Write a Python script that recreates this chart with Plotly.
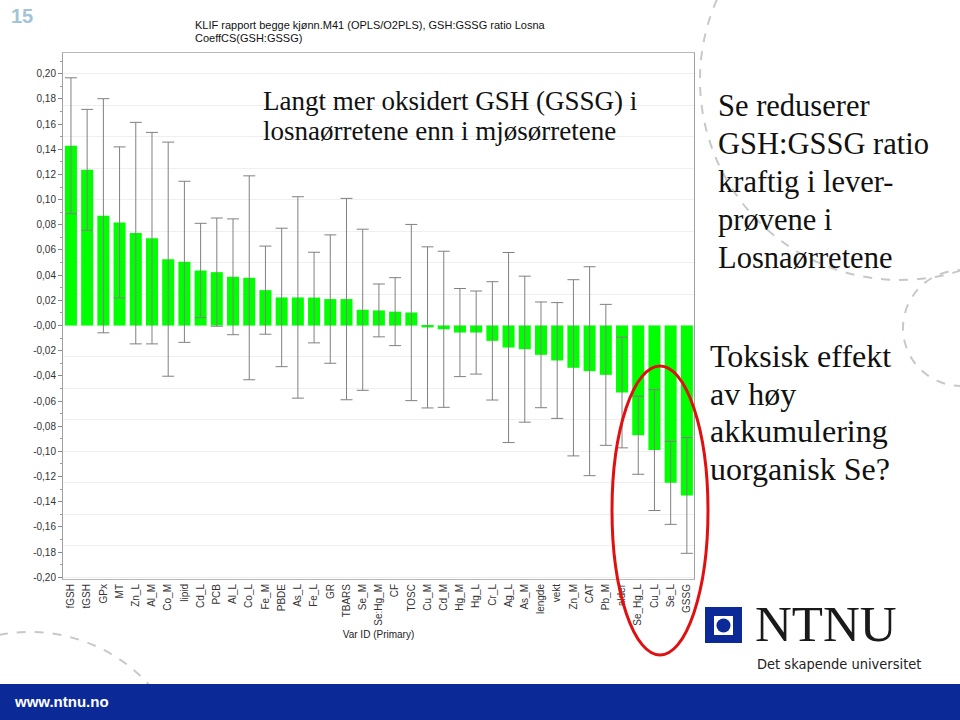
import plotly.graph_objects as go

categories = ["fGSH", "tGSH", "GPx", "MT", "Zn_L", "Al_M", "Co_M", "lipid", "Cd_L", "PCB",
              "Al_L", "Co_L", "Fe_M", "PBDE", "As_L", "Fe_L", "GR", "TBARS", "Se_M", "Se:Hg_M",
              "CF", "TOSC", "Cu_M", "Cd_M", "Hg_M", "Hg_L", "Cr_L", "Ag_L", "As_M", "lengde",
              "vekt", "Zn_M", "CAT", "Pb_M", "alder", "Se_Hg_L", "Cu_L", "Se_L", "GSSG"]
coeffs = [0.1428, 0.1237, 0.0872, 0.0819, 0.0734, 0.0694, 0.0527, 0.0506, 0.0437, 0.0424,
          0.0387, 0.0379, 0.0281, 0.0223, 0.0223, 0.0222, 0.0210, 0.0210, 0.0125, 0.0120,
          0.0110, 0.0103, -0.0015, -0.0030, -0.0056, -0.0056, -0.0122, -0.0175, -0.0188, -0.0233,
          -0.0278, -0.0336, -0.0363, -0.0392, -0.0532, -0.0872, -0.0990, -0.1250, -0.1350]
errors = [0.054, 0.048, 0.093, 0.060, 0.088, 0.084, 0.093, 0.064, 0.0375, 0.043,
          0.046, 0.081, 0.035, 0.055, 0.080, 0.036, 0.051, 0.080, 0.064, 0.021,
          0.027, 0.070, 0.064, 0.062, 0.035, 0.033, 0.047, 0.0755, 0.058, 0.042,
          0.046, 0.070, 0.083, 0.056, 0.044, 0.031, 0.048, 0.033, 0.046]
ytick_vals = [0.20, 0.18, 0.16, 0.14, 0.12, 0.10, 0.08, 0.06, 0.04, 0.02, 0.0,
              -0.02, -0.04, -0.06, -0.08, -0.10, -0.12, -0.14, -0.16, -0.18, -0.20]
ytick_text = ["0,20", "0,18", "0,16", "0,14", "0,12", "0,10", "0,08", "0,06", "0,04", "0,02", "-0,00",
              "-0,02", "-0,04", "-0,06", "-0,08", "-0,10", "-0,12", "-0,14", "-0,16", "-0,18", "-0,20"]

# plot area in pixels
L, R, T, B = 63, 694, 53, 579
W, H = R - L, B - T
def px(x):
    return (x - L) / W
def py(y):
    return (B - y) / H

fig = go.Figure()
fig.add_trace(go.Bar(
    x=categories, y=coeffs, width=0.74,
    marker=dict(color="#00ff00", line=dict(width=0)),
    error_y=dict(type="data", array=errors, color="#808080", thickness=1, width=6),
))

yr = [-0.2014, 0.2165]
fig.update_layout(
    width=960, height=720,
    margin=dict(l=L, r=960 - R, t=T, b=720 - B),
    paper_bgcolor="white", plot_bgcolor="white",
    showlegend=False,
    font=dict(family="Arial, Liberation Sans, sans-serif", size=10, color="#333"),
    xaxis=dict(type="category", range=[-0.49, 38.44], showgrid=False,
               showline=True, linecolor="#b8b8b8", mirror=True, ticks="",
               tickangle=-90, tickfont=dict(size=10, color="#333"),
               title=dict(text="Var ID (Primary)", font=dict(size=10, color="#222"), standoff=6)),
    yaxis=dict(range=yr, tickvals=ytick_vals, ticktext=ytick_text, showgrid=False,
               zeroline=False, showline=True, linecolor="#a0a0a0", mirror=True,
               ticks="outside", ticklen=4, tickcolor="#888", tickfont=dict(size=10, color="#333"),
               minor=dict(dtick=0.01, tick0=0, ticks="outside", ticklen=2, tickcolor="#999", showgrid=False)),
    yaxis2=dict(range=yr, overlaying="y", dtick=0.025, tick0=0, showgrid=True,
                gridcolor="#efefef", showticklabels=False, ticks="", zeroline=False, showline=False),
)
fig.add_trace(go.Scatter(x=[categories[0]], y=[0], yaxis="y2", mode="markers",
                         marker=dict(opacity=0), hoverinfo="skip"))

shapes = []
# decorative dashed arcs
shapes.append(dict(type="circle", xref="paper", yref="paper", layer="below",
                   x0=px(700), x1=px(1100), y0=py(280), y1=py(-120),
                   line=dict(color="#c8c8c8", width=2, dash="dash")))
shapes.append(dict(type="circle", xref="paper", yref="paper", layer="below",
                   x0=px(903), x1=px(1020), y0=py(386), y1=py(270),
                   line=dict(color="#c8c8c8", width=2, dash="dash")))
shapes.append(dict(type="circle", xref="paper", yref="paper", layer="below",
                   x0=px(-130), x1=px(190), y0=py(950), y1=py(632),
                   line=dict(color="#c8c8c8", width=2, dash="dash")))
# footer bar
shapes.append(dict(type="rect", xref="paper", yref="paper", layer="above",
                   x0=px(0), x1=px(960), y0=py(720), y1=py(684),
                   fillcolor="#0b2a98", line=dict(width=0)))
# red ellipse
shapes.append(dict(type="circle", xref="paper", yref="paper", layer="above",
                   x0=px(612), x1=px(708), y0=py(655), y1=py(366),
                   line=dict(color="#e01010", width=3)))
# NTNU logo
shapes.append(dict(type="rect", xref="paper", yref="paper", layer="above",
                   x0=px(705), x1=px(742), y0=py(643), y1=py(607),
                   fillcolor="#0b2a98", line=dict(width=0)))
shapes.append(dict(type="rect", xref="paper", yref="paper", layer="above",
                   x0=px(714), x1=px(733), y0=py(635), y1=py(616),
                   fillcolor="white", line=dict(width=0)))
shapes.append(dict(type="circle", xref="paper", yref="paper", layer="above",
                   x0=px(716.5), x1=px(730.5), y0=py(632.5), y1=py(618.5),
                   fillcolor="#0b2a98", line=dict(width=0)))
fig.update_layout(shapes=shapes)

ann = []
def text(x, y, s, size, color="#111", family="Liberation Serif, serif", xanchor="left", bold=False):
    if bold:
        s = "<b>" + s + "</b>"
    ann.append(dict(x=px(x), y=py(y), xref="paper", yref="paper", text=s, showarrow=False,
                    xanchor=xanchor, yanchor="middle", align="left",
                    font=dict(size=size, color=color, family=family)))

text(9, 16, "15", 20, color="#a3c4d6", family="Arial, Liberation Sans, sans-serif", bold=True)
text(193, 25, "KLIF rapport begge kjønn.M41 (OPLS/O2PLS), GSH:GSSG ratio Losna", 11,
     color="#111", family="Arial, Liberation Sans, sans-serif")
text(193, 38, "CoeffCS(GSH:GSSG)", 11, color="#111", family="Arial, Liberation Sans, sans-serif")

for i, line in enumerate(["Langt mer oksidert GSH (GSSG) i", "losnaørretene enn i mjøsørretene"]):
    text(261, 101 + 30 * i, line, 27)
for i, line in enumerate(["Se reduserer", "GSH:GSSG ratio", "kraftig i lever-", "prøvene i", "Losnaørretene"]):
    text(716, 106 + 38 * i, line, 30.5)
for i, line in enumerate(["Toksisk effekt", "av høy", "akkumulering", "uorganisk Se?"]):
    text(708, 356 + 37.5 * i, line, 32)

text(753, 624, "NTNU", 51, color="#1a1a1a")
text(755, 664, "Det skapende universitet", 14.5, color="#222", family="DejaVu Sans Condensed, DejaVu Sans, sans-serif")
text(12, 701, "www.ntnu.no", 15, color="white", family="Arial, Liberation Sans, sans-serif", bold=True)
fig.update_layout(annotations=ann)

fig.write_html("out.html")
